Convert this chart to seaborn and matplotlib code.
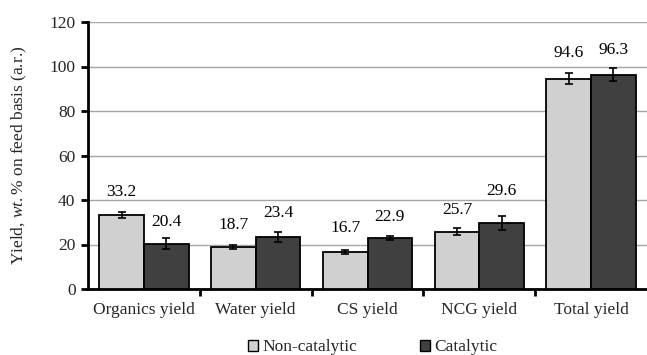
import matplotlib
matplotlib.use("Agg")
import matplotlib.pyplot as plt
import seaborn as sns
import pandas as pd
import numpy as np
from matplotlib.patches import Patch

categories = ["Organics yield", "Water yield", "CS yield", "NCG yield", "Total yield"]
series = ["Non-catalytic", "Catalytic"]
non_catalytic = [33.2, 18.7, 16.7, 25.7, 94.6]
catalytic = [20.4, 23.4, 22.9, 29.6, 96.3]
err_non = [1.2, 0.9, 0.8, 1.5, 2.6]
err_cat = [2.3, 2.4, 0.9, 3.0, 2.9]
label_off_non = [10.4, 10.1, 10.7, 9.8, 11.4]
label_off_cat = [9.7, 10.8, 9.5, 14.4, 11.1]
yticks = [0, 20, 40, 60, 80, 100, 120]

colors = ["#D0D0D0", "#404040"]

sns.set_style("white")
plt.rcParams["font.family"] = ["Liberation Serif", "DejaVu Serif"]
plt.rcParams["mathtext.fontset"] = "custom"
plt.rcParams["mathtext.rm"] = "Liberation Serif"
plt.rcParams["mathtext.it"] = "Liberation Serif:italic"

df = pd.DataFrame({
    "category": categories * 2,
    "series": [series[0]] * 5 + [series[1]] * 5,
    "value": non_catalytic + catalytic,
})

fig = plt.figure(figsize=(6.47, 3.55), dpi=100)
ax = fig.add_axes([88/647, 1 - 289/355, 1 - 88/647, (289 - 22)/355])

sns.barplot(data=df, x="category", y="value", hue="series", palette=colors,
            hue_order=series, order=categories, errorbar=None, width=0.8,
            edgecolor="black", linewidth=1.3, ax=ax, legend=False, zorder=3)

bar_containers = list(ax.containers)
errs = [err_non, err_cat]
vals = [non_catalytic, catalytic]
offs = [label_off_non, label_off_cat]
for ci, cont in enumerate(bar_containers):
    for i, p in enumerate(cont.patches):
        xc = p.get_x() + p.get_width() / 2
        ax.errorbar(xc, vals[ci][i], yerr=errs[ci][i], fmt="none", ecolor="black",
                    elinewidth=1.2, capsize=3, capthick=1.2, zorder=4)
        ax.text(xc, vals[ci][i] + offs[ci][i], f"{vals[ci][i]:.1f}", ha="center",
                va="center", fontsize=12.5, color="black")

ax.set_ylim(0, 120)
ax.set_xlim(-0.5, 4.5)
ax.set_yticks(yticks)
ax.set_yticklabels([str(t) for t in yticks], fontsize=12.5)
ax.set_xticks(range(len(categories)))
ax.set_xticklabels(categories, fontsize=12.5)
ax.set_xticks(np.arange(0.5, 4.5, 1.0), minor=True)
ax.tick_params(axis="x", which="major", length=0, pad=9)
ax.tick_params(axis="x", which="minor", length=5, width=2, direction="out", color="black", bottom=True)
ax.tick_params(axis="y", length=5, width=2, direction="out", color="black", left=True, pad=4)
ax.yaxis.grid(True, color="#A6A6A6", linewidth=1.0, zorder=0)
ax.set_axisbelow(True)
for s in ["top", "right"]:
    ax.spines[s].set_visible(False)
for s in ["left", "bottom"]:
    ax.spines[s].set_color("black")
    ax.spines[s].set_linewidth(2)
ax.set_xlabel("")
ax.set_ylabel(r"Yield, $\it{wt.}$% on feed basis (a.r.)", fontsize=12.5, labelpad=15)

handles = [Patch(facecolor=colors[i], edgecolor="black", linewidth=1.0, label=series[i]) for i in range(2)]
fig.legend(handles=handles, loc="lower center", bbox_to_anchor=(0.576, -0.045), ncol=2,
           frameon=False, fontsize=12.5, handlelength=0.6, handleheight=0.6,
           handletextpad=0.25, columnspacing=3.6)

fig.savefig("out.png", dpi=100)
